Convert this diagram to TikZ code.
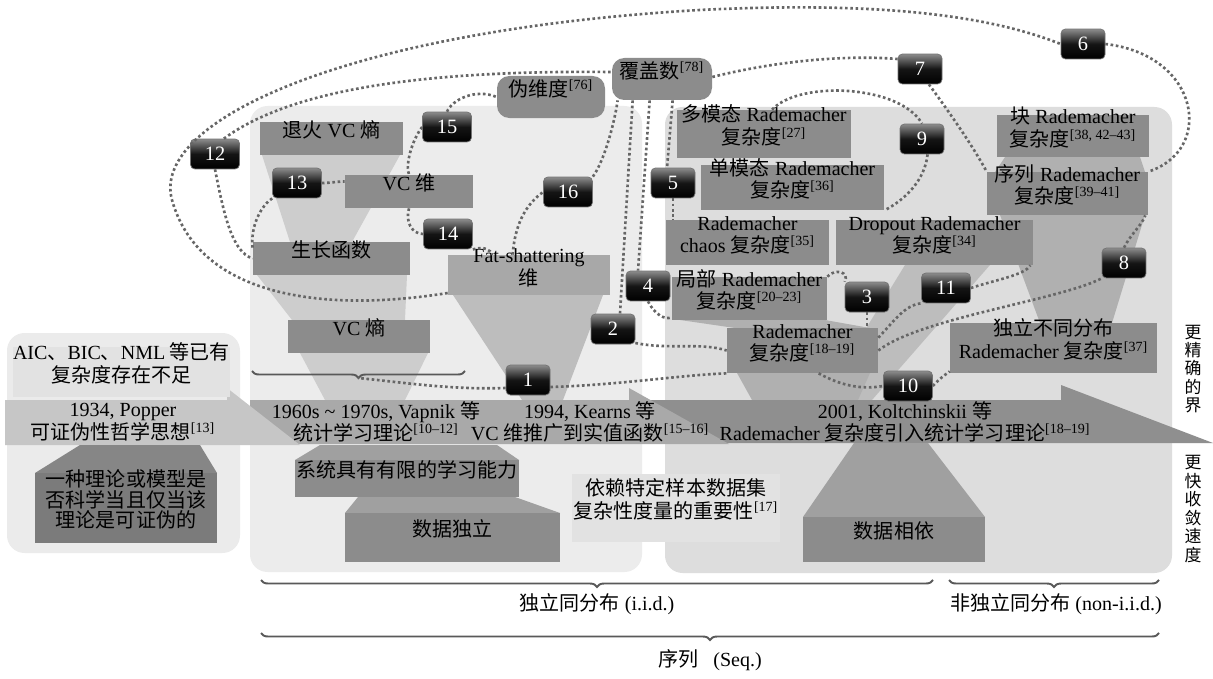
\documentclass[tikz,border=0pt]{standalone}
\usepackage{fontspec}
\setmainfont{Liberation Serif}
\newfontfamily\cjk{Noto Sans CJK SC}
\usetikzlibrary{fit,decorations.pathreplacing}
\definecolor{panelL}{HTML}{EBEBEB}
\definecolor{panelM}{HTML}{ECECEC}
\definecolor{panelR}{HTML}{DDDDDD}
\definecolor{boxg}{HTML}{8C8C8C}
\definecolor{boxlight}{HTML}{A8A8A8}
\definecolor{boxdark}{HTML}{7B7B7B}
\definecolor{txtbg}{HTML}{E2E2E2}
\definecolor{arrL}{HTML}{C6C6C6}
\definecolor{arrM}{HTML}{A9A9A9}
\definecolor{arrR}{HTML}{8F8F8F}
\definecolor{dotc}{HTML}{666666}
\definecolor{funA}{HTML}{CDCDCD}
\definecolor{funB}{HTML}{BDBDBD}
\definecolor{funC}{HTML}{B0B0B0}
\definecolor{funD}{HTML}{A0A0A0}
\definecolor{funE}{HTML}{868686}
\newcommand\zh[1]{{\cjk #1}}
\newcommand\rf[1]{\textsuperscript{[#1]}}
\newcommand\mainsz{\fontsize{11.4pt}{12.8pt}\selectfont}
\newcommand\numsz{\fontsize{11.6pt}{13pt}\selectfont}
\newcommand\vsz{\cjk\fontsize{9.6pt}{10.5pt}\selectfont}
\begin{document}
\begin{tikzpicture}[x=0.02cm,y=-0.02cm,font=\mainsz,
  gbox/.style={fill=boxg,inner sep=0pt,align=center},
  rbox/.style={gbox,rounded corners=7pt},
  tbox/.style={fill=txtbg,inner sep=0pt,align=center},
  plain/.style={inner sep=0pt,align=center},
  num/.style={rounded corners=2.5pt,draw=black!55,line width=0.4pt,
    top color=black!45,bottom color=black,middle color=black!92,
    text=white,font=\numsz,minimum width=0.88cm,minimum height=0.6cm,inner sep=0pt},
  numw/.style={num,minimum width=0.98cm},
  conn/.style={draw=dotc,line width=1.5pt,dash pattern=on 1.5pt off 1.5pt},
  brc/.style={draw=black!65,line width=1.1pt,decorate,decoration={brace,mirror,amplitude=4pt}},
  vtxt/.style={align=center,inner sep=0pt,font=\vsz}]
\useasboundingbox (0,0) rectangle (1213,679);
\fill[white] (0,0) rectangle (1213,679);
% panels
\fill[panelL,rounded corners=10pt] (7,333) rectangle (240,553);
\fill[panelM,rounded corners=10pt] (250,106) rectangle (642,572);
\fill[panelR,rounded corners=10pt] (665,107) rectangle (1172,573);
% funnels above arrow
\fill[funA] (262,155) -- (400,155) -- (352,242) -- (290,242) -- cycle;
\fill[funA] (257,275) -- (407,275) -- (405,320) -- (292,320) -- cycle;
\fill[funA] (300,353) -- (428,353) -- (405,400) -- (325,400) -- cycle;
\fill[funB] (453,295) -- (603,295) -- (563,400) -- (522,400) -- cycle;
\fill[funC] (1005,157) -- (1140,157) -- (1145,172) -- (995,172) -- cycle;
\fill[funC] (1000,215) -- (1145,215) -- (1112,323) -- (1040,323) -- cycle;
\fill[funB] (905,265) -- (990,265) -- (872,400) -- (822,400) -- cycle;
\fill[funC] (680,320) -- (825,320) -- (870,328) -- (735,328) -- cycle;
\fill[funC] (737,373) -- (870,373) -- (858,400) -- (752,400) -- cycle;
% arrows
\fill[arrR] (600,400) -- (1061,400) -- (1061,385) -- (1213,443) -- (600,443) -- cycle;
\fill[arrM] (250,400) -- (629,400) -- (629,388) -- (729,444) -- (250,444) -- cycle;
\fill[arrL] (5,400) -- (227,400) -- (227,388) -- (300,445) -- (5,445) -- cycle;
% funnels below arrow
\fill[funD] (320,445) -- (497,445) -- (519,460) -- (295,460) -- cycle;
\fill[funD] (358,497) -- (515,497) -- (560,513) -- (345,513) -- cycle;
\fill[funE] (80,445) -- (200,445) -- (217,473) -- (35,473) -- cycle;
\fill[funD] (854,443) -- (928,443) -- (985,517) -- (803,517) -- cycle;
% left panel
\node[tbox,fit={(13,347)(230,397)}] (aic) {AIC\zh{、}BIC\zh{、}NML \zh{等已有}\\\zh{复杂度存在不足}};
\node[plain] (popper) at (123,422) {1934, Popper\\\zh{可证伪性哲学思想}\rf{13}};
\node[gbox,fill=boxdark,fit={(35,473)(217,543)},font=\fontsize{11.4pt}{11.8pt}\selectfont] (theory) {\zh{一种理论或模型是}\\\zh{否科学当且仅当该}\\\zh{理论是可证伪的}};
% middle panel
\node[gbox,fit={(260,122)(403,155)}] (tuihuo) {\zh{退火} VC \zh{熵}};
\node[gbox,fit={(345,175)(473,208)}] (vcdim) {VC \zh{维}};
\node[gbox,fit={(253,242)(410,275)}] (growth) {\zh{生长函数}};
\node[gbox,fit={(288,320)(430,353)}] (vcent) {VC \zh{熵}};
\node[gbox,fill=boxlight,fit={(448,255)(610,295)}] (fat) {Fat-shattering\\\zh{维}};
\node[rbox,fit={(497,76)(605,118)}] (pseudo) {\zh{伪维度}\rf{76}};
\node[rbox,fit={(612,58)(712,100)}] (cover) {\zh{覆盖数}\rf{78}};
\node[gbox,fit={(295,460)(519,497)}] (system) {\zh{系统具有有限的学习能力}};
\node[gbox,fit={(345,513)(560,562)}] (dataind) {\zh{数据独立}};
\node[tbox,fit={(572,474)(780,542)}] (depend) {\zh{依赖特定样本数据集}\\\zh{复杂性度量的重要性}\rf{17}};
\node[plain] (vapnik) at (376,422) {1960s \textasciitilde{} 1970s, Vapnik \zh{等}\\\zh{统计学习理论}\rf{10--12}};
\node[plain] (kearns) at (590,422) {1994, Kearns \zh{等}\\VC \zh{维推广到实值函数}\rf{15--16}};
% right panel
\node[gbox,fit={(677,110)(851,158)}] (multi) {\zh{多模态} Rademacher\\\zh{复杂度}\rf{27}};
\node[gbox,fit={(701,165)(884,210)}] (uni) {\zh{单模态} Rademacher\\\zh{复杂度}\rf{36}};
\node[gbox,fit={(666,220)(829,265)}] (chaos) {Rademacher\\chaos \zh{复杂度}\rf{35}};
\node[gbox,fit={(836,220)(1033,265)}] (dropout) {Dropout Rademacher\\\zh{复杂度}\rf{34}};
\node[gbox,fit={(672,277)(827,320)}] (local) {\zh{局部} Rademacher\\\zh{复杂度}\rf{20--23}};
\node[gbox,fit={(727,328)(878,373)}] (rad) {Rademacher\\\zh{复杂度}\rf{18--19}};
\node[gbox,fit={(997,115)(1149,157)}] (block) {\zh{块} Rademacher\\\zh{复杂度}\rf{38, 42--43}};
\node[gbox,fit={(987,172)(1148,215)}] (seq) {\zh{序列} Rademacher\\\zh{复杂度}\rf{39--41}};
\node[gbox,fit={(950,323)(1157,373)}] (indep) {\zh{独立不同分布}\\Rademacher \zh{复杂度}\rf{37}};
\node[gbox,fit={(803,517)(985,562)}] (datadep) {\zh{数据相依}};
\node[plain] (kolt) at (905,422) {2001, Koltchinskii \zh{等}\\Rademacher \zh{复杂度引入统计学习理论}\rf{18--19}};
% vertical texts
\node[vtxt] (vt1) at (1193,369) {更\\精\\确\\的\\界};
\node[vtxt] (vt2) at (1193,509) {更\\快\\收\\敛\\速\\度};
% braces
\draw[brc] (252,371) -- (465,371);
\coordinate (bt) at (358,378);
\draw[brc] (261,580) -- (933,580);
\draw[brc] (949,580) -- (1159,580);
\draw[brc] (261,633) -- (1159,633);
\node[plain] (iid) at (597,604) {\zh{独立同分布} (i.i.d.)};
\node[plain] (noniid) at (1056,604) {\zh{非独立同分布} (non-i.i.d.)};
\node[plain] (seqlab) at (710,660) {\zh{序列}\hspace{0.5em} (Seq.)};
% numbered nodes
\node[num] (n1) at (528,380) {1};
\node[num] (n2) at (613,329) {2};
\node[num] (n3) at (867,297) {3};
\node[num] (n4) at (648,286) {4};
\node[num] (n5) at (673,183) {5};
\node[num] (n6) at (1083,44) {6};
\node[num] (n7) at (920,69) {7};
\node[num] (n8) at (1124,263) {8};
\node[num] (n9) at (922,139) {9};
\node[numw] (n10) at (908,386) {10};
\node[numw] (n11) at (946,288) {11};
\node[numw] (n12) at (215,154) {12};
\node[numw] (n13) at (297,183) {13};
\node[numw] (n14) at (448,234) {14};
\node[numw] (n15) at (447,127) {15};
\node[numw] (n16) at (568,192) {16};
% connectors
\draw[conn] (n12.60) .. controls (290,90) and (420,70) .. ([yshift=0.14cm]cover.west);
\draw[conn] (n12.south) .. controls (224,215) and (232,252) .. (growth.west);
\draw[conn] (n13.east) to[out=0,in=180] ([yshift=0.2cm]vcdim.west);
\draw[conn] (n13.south west) .. controls (262,205) and (250,225) .. ([yshift=0.2cm]growth.west);
\draw[conn] (n15.west) .. controls (412,140) and (405,165) .. (vcdim.north);
\draw[conn] (n15.north) .. controls (452,100) and (475,88) .. (pseudo.west);
\draw[conn] (vcdim.south) .. controls (405,222) and (412,234) .. (n14.west);
\draw[conn] (n14.south east) .. controls (485,246) and (490,250) .. ([xshift=0.9cm]fat.north west);
\draw[conn] ([xshift=1.3cm]fat.north west) .. controls (515,225) and (525,205) .. (n16.west);
\draw[conn] (n16.north east) .. controls (605,160) and (615,120) .. ([xshift=0.12cm]cover.south west);
\draw[conn] ([xshift=0.42cm]cover.south west) -- ([xshift=0.14cm]n2.north);
\draw[conn] ([xshift=0.76cm]cover.south west) -- ([xshift=-0.2cm]n4.north);
\draw[conn] ([xshift=1.22cm]cover.south west) -- ([xshift=-0.12cm]n5.north);
\draw[conn] (n5.south) -- (n5.south |- chaos.north);
\draw[conn] (n4.south) .. controls (655,315) and (665,320) .. ([yshift=0.06cm]local.south west);
\draw[conn] ([yshift=-0.28cm]n2.east) .. controls (670,350) and (700,342) .. (rad.west);
\draw[conn] ([yshift=-0.16cm]n1.west) .. controls (450,390) and (400,382) .. (bt);
\draw[conn] ([yshift=-0.14cm]n1.east) .. controls (620,385) and (680,375) .. (rad.south west);
\draw[conn] ([xshift=1.84cm]rad.south west) .. controls (840,385) and (860,390) .. (n10.west);
\draw[conn] (n10.east) .. controls (940,378) and (945,375) .. ([yshift=0.04cm]indep.south west);
\draw[conn] (local.north east) .. controls (835,268) and (850,272) .. (n3.north west);
\draw[conn] (n3.south) -- (n3.south |- rad.north);
\draw[conn] ([yshift=-0.2cm]rad.north east) .. controls (895,320) and (905,305) .. (n11.south west);
\draw[conn] (n11.east) .. controls (995,280) and (1025,275) .. ([xshift=-0.06cm]dropout.south east);
\draw[conn] (rad.east) .. controls (920,318) and (1060,300) .. (n8.south west);
\draw[conn] (n8.north) .. controls (1130,235) and (1142,225) .. ([xshift=-0.06cm]seq.south east);
\draw[conn] ([yshift=-0.36cm]fat.west) .. controls (330,312) and (200,300) .. (172,200)
   .. controls (150,120) and (350,30) .. (700,10) .. controls (900,0) and (1000,20) .. (n6.west);
\draw[conn] (n6.east) .. controls (1200,55) and (1215,150) .. (seq.north east);
\draw[conn] ([yshift=0.04cm]cover.east) .. controls (780,60) and (850,55) .. ([yshift=0.2cm]n7.west);
\draw[conn] (n7.-60) .. controls (955,120) and (975,150) .. (seq.north west);
\draw[conn] ([xshift=0.16cm]multi.north) .. controls (800,80) and (900,85) .. (n9.north);
\draw[conn] (n9.-70) .. controls (925,180) and (905,200) .. (uni.south east);
\end{tikzpicture}
\end{document}
